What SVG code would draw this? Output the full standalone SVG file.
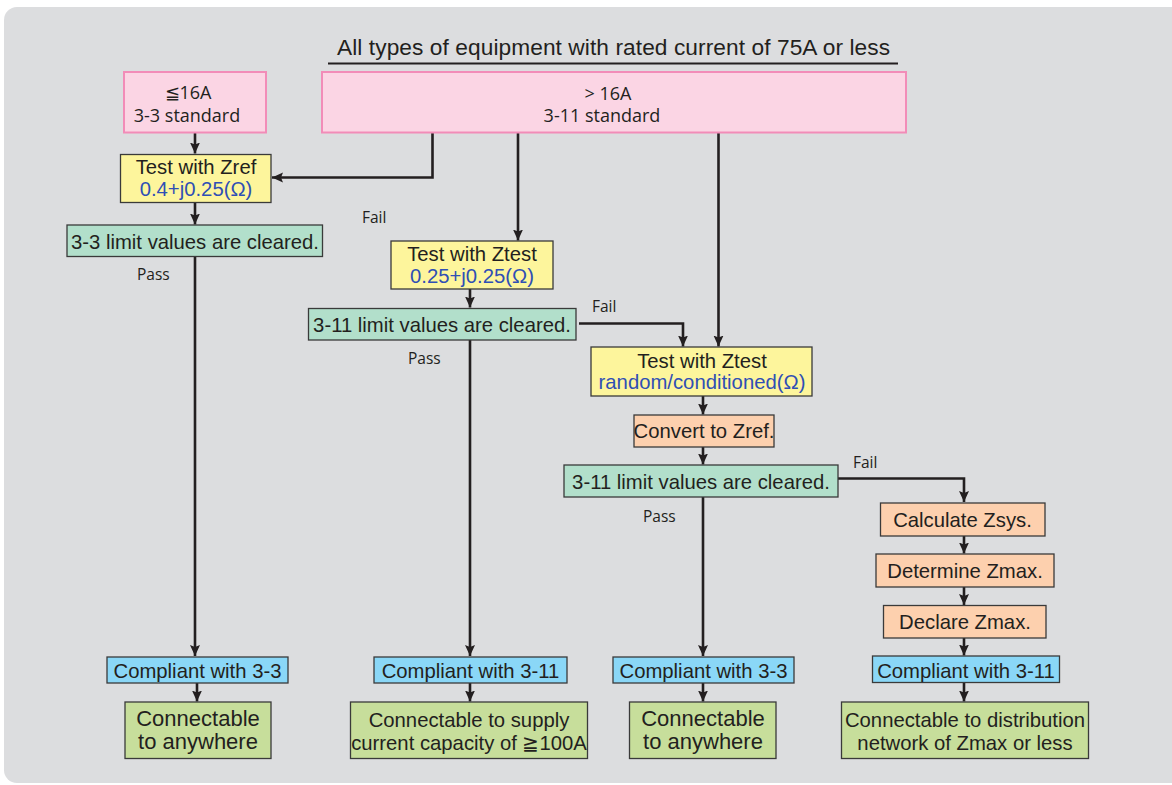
<svg xmlns="http://www.w3.org/2000/svg" width="1172" height="785" viewBox="0 0 1172 785">
<defs>
<marker id="ah" markerUnits="userSpaceOnUse" markerWidth="12" markerHeight="11" refX="11" refY="5" orient="auto">
<path d="M0,0 L11,5 L0,10 L2,5 z" fill="#231f20"/>
</marker>
<style>
.bx{stroke:#3a3a3a;stroke-width:1.3}
.pink{fill:#fbd5e4;stroke:#f28cb8;stroke-width:2}
.yel{fill:#fdf59c}
.mint{fill:#b2dfcb}
.peach{fill:#fdd0ae}
.blue{fill:#8ad7f7}
.lg{fill:#c7de9b}
.t{font-family:"Liberation Sans",Arial,sans-serif;font-size:20.3px;fill:#231f20;text-anchor:middle}
.tb{fill:#2f4fb5}
.m{font-family:"Open Sans","Noto Sans",sans-serif;fill:#231f20}
.pm{font-size:18px;text-anchor:middle}
.lbl{font-size:15.5px}
.big{font-size:22px}
.c{fill:none;stroke:#231f20;stroke-width:2.6;marker-end:url(#ah)}
</style>
</defs>
<rect x="4" y="7" width="1190" height="776" rx="13" fill="#dcdddf"/>
<g id="title">
<text x="337" y="55" font-family="Liberation Sans,Arial,sans-serif" font-size="22.7" fill="#231f20" textLength="553">All types of equipment with rated current of 75A or less</text>
<line x1="328" y1="63.5" x2="898" y2="63.5" stroke="#231f20" stroke-width="2.2"/>
</g>
<g id="connectors">
<path class="c" d="M195,133 V153.5"/>
<path class="c" d="M432.5,133 V177.5 H272"/>
<path class="c" d="M195,203 V224.5"/>
<path class="c" d="M195,257 V656"/>
<path class="c" d="M518,133 V240.5"/>
<path class="c" d="M470,289 V307.5"/>
<path class="c" d="M470,340 V656"/>
<path class="c" d="M579,323.5 H683 V346.5"/>
<path class="c" d="M718.5,133 V346.5"/>
<path class="c" d="M703,396 V414.5"/>
<path class="c" d="M703,447 V464.5"/>
<path class="c" d="M703,497 V656"/>
<path class="c" d="M838,478.5 H964 V502"/>
<path class="c" d="M964,536 V553.5"/>
<path class="c" d="M964,587 V605"/>
<path class="c" d="M964,638 V655.5"/>
<path class="c" d="M197,683 V701.5"/>
<path class="c" d="M470,683 V701.5"/>
<path class="c" d="M703,683 V701.5"/>
<path class="c" d="M964,683 V701.5"/>
</g>
<g id="labels" class="m lbl">
<text x="362" y="223">Fail</text>
<text x="137" y="280">Pass</text>
<text x="592" y="312">Fail</text>
<text x="408" y="364">Pass</text>
<text x="853" y="468">Fail</text>
<text x="643" y="521.5">Pass</text>
</g>
<g id="n-le16">
<rect class="pink" x="124" y="72" width="142" height="60.5"/>
<text class="m pm" x="188" y="98.5">≦16A</text>
<text class="m pm" x="187" y="122">3-3 standard</text>
</g>
<g id="n-gt16">
<rect class="pink" x="322" y="72" width="584" height="60.5"/>
<text class="m pm" x="608" y="99.5">&gt; 16A</text>
<text class="m pm" x="602" y="121.5">3-11 standard</text>
</g>
<g id="n-zref">
<rect class="bx yel" x="120.5" y="154.5" width="150.5" height="48"/>
<text class="t" x="196" y="173.5">Test with Zref</text>
<text class="t tb" x="196" y="195.5">0.4+j0.25(Ω)</text>
</g>
<g id="n-lim33">
<rect class="bx mint" x="67" y="225" width="255.5" height="31.5"/>
<text class="t" x="195" y="249">3-3 limit values are cleared.</text>
</g>
<g id="n-ztest1">
<rect class="bx yel" x="391" y="241" width="162" height="48"/>
<text class="t" x="472" y="260.5">Test with Ztest</text>
<text class="t tb" x="472" y="282.5">0.25+j0.25(Ω)</text>
</g>
<g id="n-lim311a">
<rect class="bx mint" x="308.5" y="308.5" width="267.5" height="31.5"/>
<text class="t" x="442" y="331.5">3-11 limit values are cleared.</text>
</g>
<g id="n-ztest2">
<rect class="bx yel" x="591" y="347" width="221" height="49"/>
<text class="t" x="702" y="368">Test with Ztest</text>
<text class="t tb" x="702" y="389">random/conditioned(Ω)</text>
</g>
<g id="n-convert">
<rect class="bx peach" x="634" y="415" width="140" height="32"/>
<text class="t" x="704" y="438">Convert to Zref.</text>
</g>
<g id="n-lim311b">
<rect class="bx mint" x="564" y="465" width="274" height="32"/>
<text class="t" x="701" y="488.5">3-11 limit values are cleared.</text>
</g>
<g id="n-zsys">
<rect class="bx peach" x="880.5" y="503" width="164.5" height="33"/>
<text class="t" x="962.5" y="526.5">Calculate Zsys.</text>
</g>
<g id="n-detz">
<rect class="bx peach" x="876" y="554" width="178" height="33"/>
<text class="t" x="965" y="577.5">Determine Zmax.</text>
</g>
<g id="n-decz">
<rect class="bx peach" x="883.5" y="605.5" width="162.5" height="32.5"/>
<text class="t" x="965" y="628.5">Declare Zmax.</text>
</g>
<g id="n-c33a">
<rect class="bx blue" x="107" y="657" width="181" height="26"/>
<text class="t" x="197.5" y="678">Compliant with 3-3</text>
</g>
<g id="n-c311a">
<rect class="bx blue" x="374" y="657" width="193" height="26"/>
<text class="t" x="470.5" y="678">Compliant with 3-11</text>
</g>
<g id="n-c33b">
<rect class="bx blue" x="613" y="657" width="181" height="26"/>
<text class="t" x="703.5" y="678">Compliant with 3-3</text>
</g>
<g id="n-c311b">
<rect class="bx blue" x="872.5" y="656" width="187" height="26.5"/>
<text class="t" x="966" y="677.5">Compliant with 3-11</text>
</g>
<g id="n-r1">
<rect class="bx lg" x="125" y="702" width="146" height="56.5"/>
<text class="t big" x="198" y="726">Connectable</text>
<text class="t big" x="198" y="749">to anywhere</text>
</g>
<g id="n-r2">
<rect class="bx lg" x="350.5" y="702" width="237" height="56.5"/>
<text class="t" x="469" y="727">Connectable to supply</text>
<text class="t" x="469" y="750">current capacity of ≧100A</text>
</g>
<g id="n-r3">
<rect class="bx lg" x="629.5" y="702" width="146.5" height="56.5"/>
<text class="t big" x="703" y="726">Connectable</text>
<text class="t big" x="703" y="749">to anywhere</text>
</g>
<g id="n-r4">
<rect class="bx lg" x="841.5" y="702" width="247" height="56.5"/>
<text class="t" x="965" y="727">Connectable to distribution</text>
<text class="t" x="965" y="750">network of Zmax or less</text>
</g>
</svg>
